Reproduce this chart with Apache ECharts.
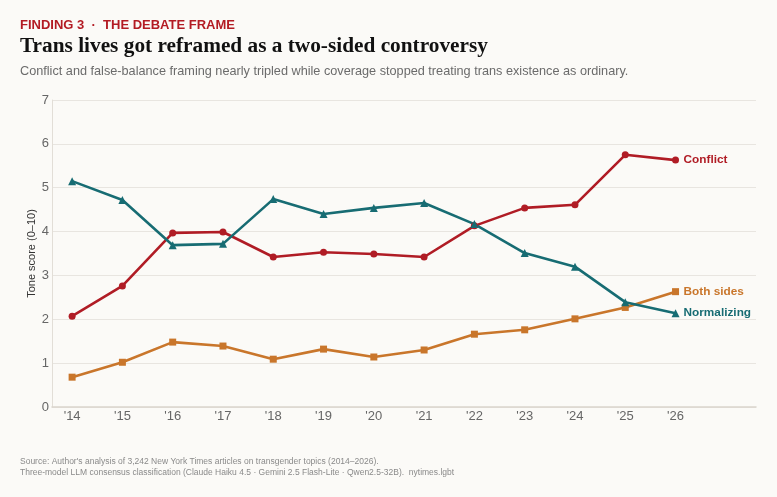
<!DOCTYPE html>
<html><head><meta charset="utf-8">
<script src="https://cdn.jsdelivr.net/npm/echarts@6/dist/echarts.min.js"></script>
<style>html,body{margin:0;padding:0;background:#FBFAF7;}#c{width:777px;height:497px;}</style>
</head><body><div id="c"></div>
<script>
const years = [14,15,16,17,18,19,20,21,22,23,24,25,26];
const yearLabels = ["'14","'15","'16","'17","'18","'19","'20","'21","'22","'23","'24","'25","'26"];
const conflict = [2.07,2.76,3.97,3.99,3.42,3.53,3.49,3.42,4.13,4.54,4.61,5.75,5.63];
const normalizing = [5.15,4.72,3.69,3.72,4.74,4.40,4.54,4.65,4.17,3.51,3.20,2.39,2.14];
const bothSides = [0.68,1.02,1.48,1.39,1.09,1.32,1.14,1.30,1.66,1.76,2.01,2.27,2.63];
const yTicks = [0,1,2,3,4,5,6,7];

const chart = echarts.init(document.getElementById('c'), null, {renderer:'canvas'});
const sans = "'Liberation Sans', Arial, sans-serif";
function mk(name, data, color, symbol){
  return {
    name, type:'line', data: years.map((y,i)=>[y,data[i]]),
    symbol, symbolSize: symbol==='rect'?7:(symbol==='triangle'?8:7),
    lineStyle:{width:2.6,color}, itemStyle:{color},
    emphasis:{disabled:true},
    endLabel:{show:true, formatter:name, color, fontFamily:sans, fontWeight:'bold', fontSize:11.8, distance:8}
  };
}
chart.setOption({
  backgroundColor:'#FBFAF7',
  animation:false,
  title:[
    {text:'FINDING 3  ·  THE DEBATE FRAME', left:20, top:19, padding:0, textStyle:{fontFamily:sans,fontSize:13,fontWeight:'bold',color:'#B31B23'}},
    {text:'Trans lives got reframed as a two-sided controversy', left:20, top:36, padding:0, textStyle:{fontFamily:"'Liberation Serif', 'Times New Roman', serif",fontSize:21.3,fontWeight:'bold',color:'#111'}},
    {text:'Conflict and false-balance framing nearly tripled while coverage stopped treating trans existence as ordinary.', left:20, top:65, padding:0, textStyle:{fontFamily:sans,fontSize:12.7,fontWeight:'normal',color:'#6b6b6b'}},
    {text:"Source: Author's analysis of 3,242 New York Times articles on transgender topics (2014–2026).\nThree-model LLM consensus classification (Claude Haiku 4.5 · Gemini 2.5 Flash-Lite · Qwen2.5-32B).  nytimes.lgbt", left:20, top:456, padding:0, textStyle:{fontFamily:sans,fontSize:8.5,fontWeight:'normal',color:'#8a8a8a',lineHeight:11}}
  ],
  grid:{left:52,right:21,top:100,bottom:90,containLabel:false},
  xAxis:{type:'value',min:13.6,max:27.6,
    axisLine:{show:true,lineStyle:{color:'#DAD5CD',width:1.5}},
    axisTick:{show:false},
    splitLine:{show:false},
    axisLabel:{customValues:years,formatter:v=>yearLabels[years.indexOf(Math.round(v))]||'',color:'#666',fontFamily:sans,fontSize:13,margin:3}
  },
  yAxis:{type:'value',min:0,max:7,interval:1,
    name:'Tone score (0–10)',nameLocation:'middle',nameGap:15,nameMoveOverlap:false,
    nameTextStyle:{fontFamily:sans,fontSize:11,color:'#333'},
    axisLine:{show:true,lineStyle:{color:'#E2DED7'}},
    axisTick:{show:false},
    splitLine:{lineStyle:{color:'#E8E5E0',width:1}},
    axisLabel:{customValues:yTicks,color:'#666',fontFamily:sans,fontSize:13,margin:3}
  },
  series:[
    mk('Conflict',conflict,'#B01C25','circle'),
    mk('Both sides',bothSides,'#C9762B','rect'),
    mk('Normalizing',normalizing,'#176C73','triangle')
  ]
});
</script></body></html>
